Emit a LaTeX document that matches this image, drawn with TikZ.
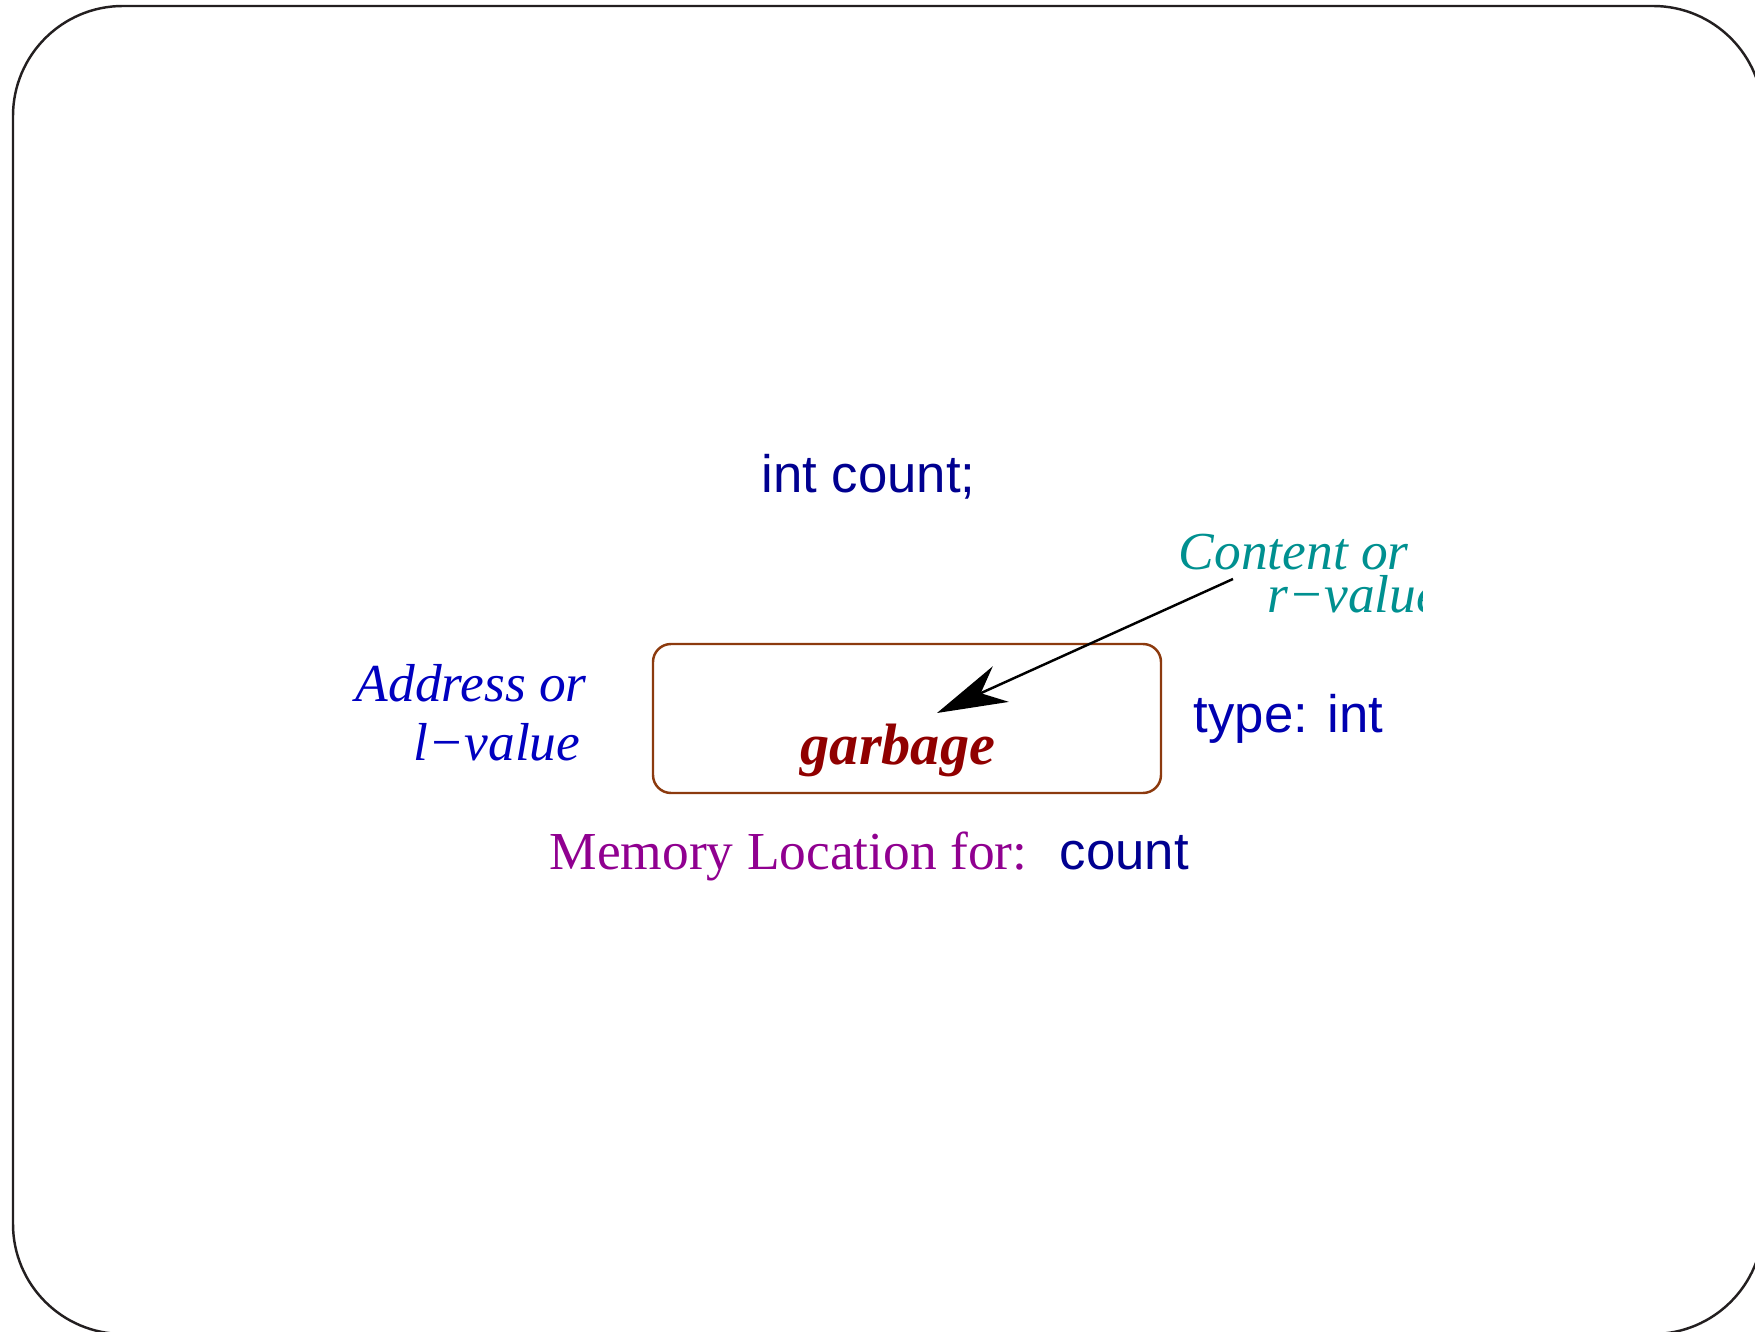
\documentclass[tikz,border=0pt]{standalone}
\usepackage{fontspec}
\setmainfont{Liberation Serif}
\setsansfont{Liberation Sans}
\usetikzlibrary{arrows.meta}

\definecolor{navy}{HTML}{000090}
\definecolor{midblue}{HTML}{0000B0}
\definecolor{addrblue}{HTML}{0000C0}
\definecolor{tealc}{HTML}{009090}
\definecolor{garbred}{HTML}{900000}
\definecolor{purplec}{HTML}{900090}
\definecolor{cellbrown}{HTML}{8C3A0E}
\definecolor{framegray}{HTML}{231F20}

\tikzset{
  lbl/.style={inner sep=0pt, anchor=base west},
  sanslbl/.style={lbl, font=\sffamily\fontsize{15}{18}\selectfont},
  itlbl/.style={lbl, font=\itshape\fontsize{15.2}{18}\selectfont},
}

\begin{document}
\begin{tikzpicture}

  \useasboundingbox (0,0) rectangle (17.55,-13.32);
  \begin{scope}
  \clip (0,0) rectangle (17.55,-13.32);
  \draw[framegray, line width=0.7pt, rounded corners=1.1cm] (0.13,-0.06) rectangle (17.63,-13.34);
  \end{scope}

  \node[sanslbl, navy] (decl) at (7.61,-4.93) {int count;};

  \node[itlbl, tealc] (content) at (11.78,-5.70) {Content or};
  \begin{scope}
  \clip (0,0) rectangle (14.22,-13.32);
  \node[itlbl, tealc] (rvalue) at (12.67,-6.13) {r−value};
  \end{scope}

  \node[itlbl, addrblue] (address) at (3.55,-7.02) {Address or};
  \node[itlbl, addrblue] (lvalue) at (4.13,-7.61) {l−value};

  \node[draw=cellbrown, line width=0.7pt, rounded corners=0.18cm,
        minimum width=5.08cm, minimum height=1.49cm] (cell) at (9.07,-7.185) {};
  \node[lbl, garbred, font=\bfseries\itshape\fontsize{16.6}{20}\selectfont] (garbage) at (8.00,-7.65) {garbage};

  \node[sanslbl, midblue] (typelbl) at (11.93,-7.33) {type: int};

  \node[lbl, purplec, font=\fontsize{15.2}{18}\selectfont] (memloc) at (5.49,-8.70) {Memory Location for:};
  \node[sanslbl, navy] (countlbl) at (10.59,-8.70) {count};

  \coordinate (arrowtail) at (12.33,-5.79);
  \coordinate (arrowtip) at (9.37,-7.13);
  \draw[line width=0.7pt, -{Stealth[length=7mm, width=3.9mm, inset=2.2mm]}] (arrowtail) -- (arrowtip);

\end{tikzpicture}
\end{document}
